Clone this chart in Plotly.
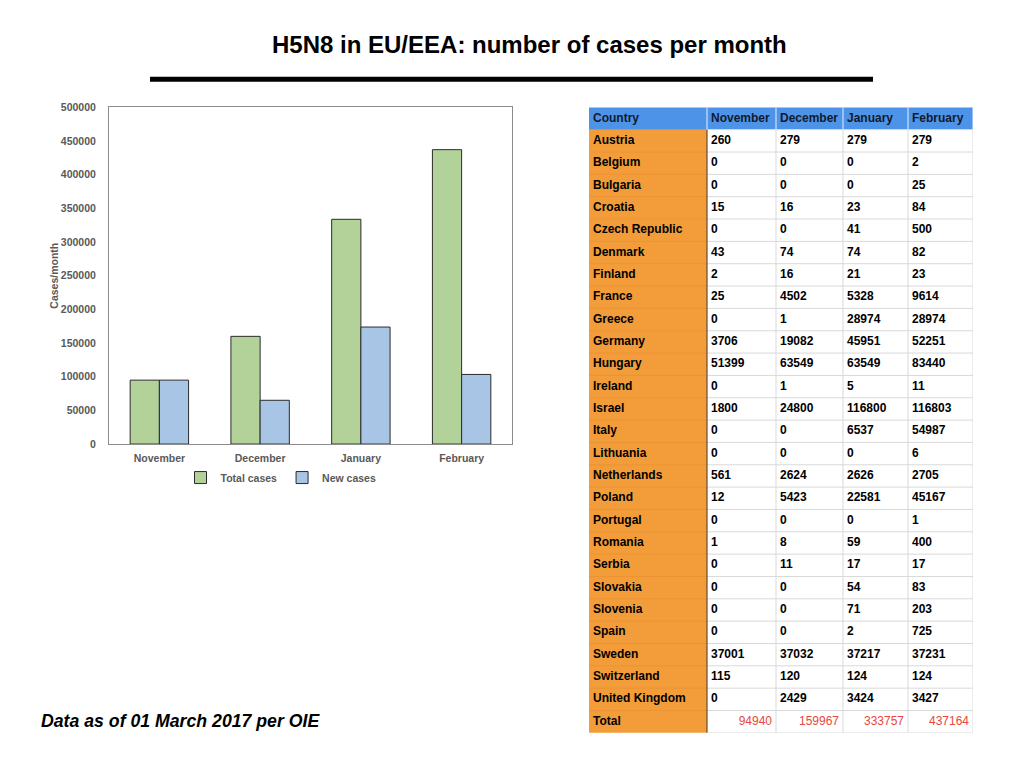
import plotly.graph_objects as go

months = ["November", "December", "January", "February"]
total_cases = [94940, 159967, 333757, 437164]
new_cases = [94940, 65027, 173790, 103407]

countries = ["Austria", "Belgium", "Bulgaria", "Croatia", "Czech Republic", "Denmark",
             "Finland", "France", "Greece", "Germany", "Hungary", "Ireland", "Israel",
             "Italy", "Lithuania", "Netherlands", "Poland", "Portugal", "Romania",
             "Serbia", "Slovakia", "Slovenia", "Spain", "Sweden", "Switzerland",
             "United Kingdom"]
nov = [260, 0, 0, 15, 0, 43, 2, 25, 0, 3706, 51399, 0, 1800, 0, 0, 561, 12, 0, 1, 0, 0, 0, 0, 37001, 115, 0]
dec = [279, 0, 0, 16, 0, 74, 16, 4502, 1, 19082, 63549, 1, 24800, 0, 0, 2624, 5423, 0, 8, 11, 0, 0, 0, 37032, 120, 2429]
jan = [279, 0, 0, 23, 41, 74, 21, 5328, 28974, 45951, 63549, 5, 116800, 6537, 0, 2626, 22581, 0, 59, 17, 54, 71, 2, 37217, 124, 3424]
feb = [279, 2, 25, 84, 500, 82, 23, 9614, 28974, 52251, 83440, 11, 116803, 54987, 6, 2705, 45167, 1, 400, 17, 83, 203, 725, 37231, 124, 3427]
totals = [94940, 159967, 333757, 437164]

header_labels = ["Country", "November", "December", "January", "February"]
col_widths = [118, 69, 67, 65, 65]

FONT = "Liberation Sans, Arial, sans-serif"
ORANGE = "#F29C3A"
BLUE_HDR = "#4D94E8"
RED = "#E8473D"
GRID = "#d9d9d9"
GRAY_TXT = "#595959"

W, H = 1016, 760     # page body has an 8px margin
OFF = 8


def px(x):
    return (x - OFF) / W


def py(y):
    # map a target screen y to paper coordinate (empirical vertical correction)
    page = (y - 4.7) / 0.985
    return 1 - (page - OFF) / H


fig = go.Figure()

# ---- bar chart ----
fig.add_trace(go.Bar(
    x=months, y=total_cases, name="Total cases",
    marker=dict(color="#B3D29A", line=dict(color="#2b2b2b", width=1)),
    xaxis="x", yaxis="y", hoverinfo="x+y",
))
fig.add_trace(go.Bar(
    x=months, y=new_cases, name="New cases",
    marker=dict(color="#A9C5E6", line=dict(color="#2b2b2b", width=1)),
    xaxis="x", yaxis="y", hoverinfo="x+y",
))

# ---- table drawn on its own axes ----
ncol = len(header_labels)
nrow = len(countries) + 2  # header + countries + total
edges = [0]
for w in col_widths:
    edges.append(edges[-1] + w)
row_edges = list(range(nrow + 1))

z = []
for r in range(nrow):
    row = []
    for c in range(ncol):
        if r == 0:
            row.append(2)
        elif c == 0:
            row.append(1)
        else:
            row.append(0)
    z.append(row)

fig.add_trace(go.Heatmap(
    x=edges, y=row_edges, z=z, zmin=0, zmax=2,
    colorscale=[[0, "#FFFFFF"], [0.5, ORANGE], [1, BLUE_HDR]],
    showscale=False, hoverinfo="skip", xaxis="x2", yaxis="y2",
))

# grid lines
gx, gy = [], []
for r in range(1, nrow + 1):
    gx += [edges[1], edges[-1], None]
    gy += [r, r, None]
for e in edges[2:]:
    gx += [e, e, None]
    gy += [1, nrow, None]
fig.add_trace(go.Scatter(x=gx, y=gy, mode="lines", line=dict(color=GRID, width=1),
                         hoverinfo="skip", showlegend=False, xaxis="x2", yaxis="y2"))
# header separators (light)
hx, hy = [], []
for e in edges[1:]:
    hx += [e, e, None]
    hy += [0, 1, None]
fig.add_trace(go.Scatter(x=hx, y=hy, mode="lines", line=dict(color="#e6eefa", width=1),
                         hoverinfo="skip", showlegend=False, xaxis="x2", yaxis="y2"))
# orange column row separators (faint)
ox, oy = [], []
for r in range(2, nrow):
    ox += [edges[0], edges[1], None]
    oy += [r, r, None]
fig.add_trace(go.Scatter(x=ox, y=oy, mode="lines", line=dict(color="#ea9436", width=1),
                         hoverinfo="skip", showlegend=False, xaxis="x2", yaxis="y2"))
# dark separator between country column and data
fig.add_trace(go.Scatter(x=[edges[1], edges[1]], y=[1, nrow], mode="lines",
                         line=dict(color="#6b4a2a", width=1.2),
                         hoverinfo="skip", showlegend=False, xaxis="x2", yaxis="y2"))

# cell texts
PAD = 4
columns = [countries, nov, dec, jan, feb]
tx, ty, tt, tc = [], [], [], []
for c in range(ncol):
    tx.append(edges[c] + PAD)
    ty.append(0.5)
    tt.append("<b>%s</b>" % header_labels[c])
    tc.append("#111a2e")
    for r, v in enumerate(columns[c]):
        tx.append(edges[c] + PAD)
        ty.append(r + 1.5)
        tt.append("<b>%s</b>" % v)
        tc.append("black")
tx.append(edges[0] + PAD)
ty.append(nrow - 0.5)
tt.append("<b>Total</b>")
tc.append("black")
fig.add_trace(go.Scatter(x=tx, y=ty, text=tt, mode="text", textposition="middle right",
                         textfont=dict(family=FONT, size=12, color=tc),
                         hoverinfo="skip", showlegend=False, xaxis="x2", yaxis="y2"))
# totals (right aligned, red)
fig.add_trace(go.Scatter(x=[edges[c + 2] - PAD for c in range(4)], y=[nrow - 0.5] * 4,
                         text=[str(t) for t in totals], mode="text", textposition="middle left",
                         textfont=dict(family=FONT, size=12, color=RED),
                         hoverinfo="skip", showlegend=False, xaxis="x2", yaxis="y2"))

tick_font = dict(family=FONT, size=10.5, color=GRAY_TXT, weight="bold")

fig.update_layout(
    width=W, height=H,
    margin=dict(l=0, r=0, t=0, b=0),
    paper_bgcolor="white", plot_bgcolor="white",
    font=dict(family=FONT),
    barmode="group",
    bargap=0.42, bargroupgap=0.0,
    showlegend=True,
    legend=dict(
        orientation="h", x=px(281), y=py(462), xanchor="center", yanchor="top",
        font=dict(family=FONT, size=10.5, color=GRAY_TXT, weight="bold"),
        itemwidth=30, bgcolor="rgba(0,0,0,0)",
    ),
    xaxis=dict(
        domain=[px(109), px(512)], anchor="y",
        showline=True, linecolor="#8c8c8c", linewidth=1, mirror=True,
        showgrid=False, ticks="", tickfont=tick_font, ticklabelstandoff=4,
        fixedrange=True,
    ),
    yaxis=dict(
        domain=[py(443), py(106)], anchor="x",
        range=[0, 500000], dtick=50000, tickformat="d",
        showline=True, linecolor="#8c8c8c", linewidth=1, mirror=True,
        showgrid=False, ticks="", zeroline=False, tickfont=tick_font,
        ticklabelstandoff=10, fixedrange=True,
        title=dict(text="Cases/month", standoff=0,
                   font=dict(family=FONT, size=10.5, color=GRAY_TXT, weight="bold")),
    ),
    xaxis2=dict(domain=[px(589), px(973)], anchor="y2", range=[0, edges[-1]],
                visible=False, fixedrange=True),
    yaxis2=dict(domain=[py(732), py(106)], anchor="x2", range=[nrow, 0],
                visible=False, fixedrange=True),
    annotations=[
        dict(text="<b>H5N8 in EU/EEA: number of cases per month</b>",
             x=px(529), y=py(43), xref="paper", yref="paper",
             xanchor="center", yanchor="middle", showarrow=False,
             font=dict(family=FONT, size=24, color="black")),
        dict(text="<b><i>Data as of 01 March 2017 per OIE</i></b>",
             x=px(39), y=py(720), xref="paper", yref="paper",
             xanchor="left", yanchor="middle", showarrow=False,
             font=dict(family=FONT, size=17.7, color="black")),
    ],
    shapes=[
        dict(type="line", xref="paper", yref="paper",
             x0=px(150), x1=px(873), y0=py(78), y1=py(78),
             line=dict(color="black", width=5)),
    ],
)

fig.write_html("out.html")
